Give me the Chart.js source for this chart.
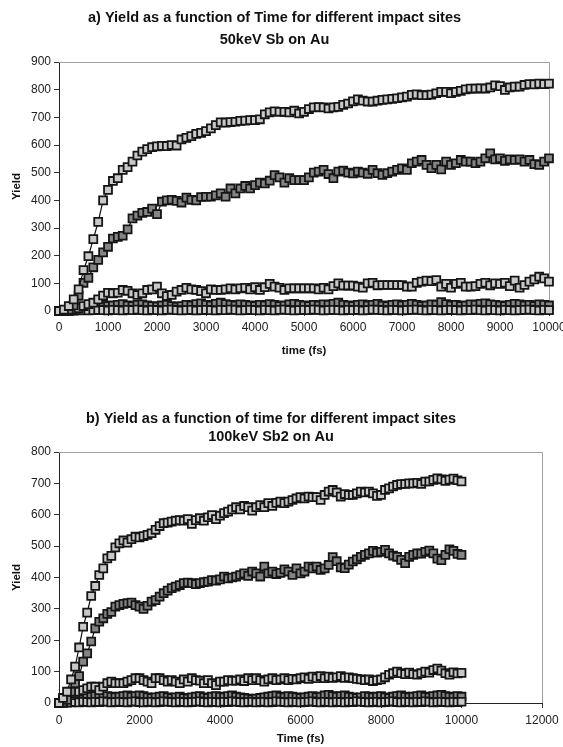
<!DOCTYPE html>
<html>
<head>
<meta charset="utf-8">
<title>Yield vs time</title>
<script src="https://cdn.jsdelivr.net/npm/chart.js"></script>
<style>
  body { margin: 0; background: #fff; width: 563px; height: 747px; overflow: hidden; position: relative; }
  canvas { position: absolute; left: 0; }
  #chartA { top: 0; }
  #chartB { top: 385px; }
</style>
</head>
<body>
<canvas id="chartA" width="563" height="365"></canvas>
<canvas id="chartB" width="563" height="362"></canvas>
<script>
// time axis (fs), shared by both panels
const times = [
  0, 100, 200, 300, 400, 500, 600, 700, 800, 900,
  1000, 1100, 1200, 1300, 1400, 1500, 1600, 1700, 1800, 1900,
  2000, 2100, 2200, 2300, 2400, 2500, 2600, 2700, 2800, 2900,
  3000, 3100, 3200, 3300, 3400, 3500, 3600, 3700, 3800, 3900,
  4000, 4100, 4200, 4300, 4400, 4500, 4600, 4700, 4800, 4900,
  5000, 5100, 5200, 5300, 5400, 5500, 5600, 5700, 5800, 5900,
  6000, 6100, 6200, 6300, 6400, 6500, 6600, 6700, 6800, 6900,
  7000, 7100, 7200, 7300, 7400, 7500, 7600, 7700, 7800, 7900,
  8000, 8100, 8200, 8300, 8400, 8500, 8600, 8700, 8800, 8900,
  9000, 9100, 9200, 9300, 9400, 9500, 9600, 9700, 9800, 9900,
  10000
];

// a) 50keV Sb on Au
const siteA1 = [
  0, 5, 18, 42, 78, 148, 198, 260, 322, 400,
  438, 470, 480, 510, 520, 540, 562, 576, 585, 592,
  595, 597, 596, 600, 598, 620, 626, 632, 640, 644,
  650, 660, 672, 682, 681, 683, 684, 687, 688, 690,
  690, 693, 711, 718, 722, 720, 720, 718, 724, 714,
  720, 730, 736, 737, 736, 732, 736, 738, 745, 750,
  758, 765, 760, 757, 757, 760, 763, 765, 767, 769,
  772, 775, 781, 783, 780, 780, 782, 787, 792, 792,
  787, 792, 796, 801, 804, 804, 805, 804, 808, 816,
  813, 799, 808, 811, 811, 817, 820, 819, 822, 820,
  822
];
const siteA2 = [
  0, 2, 5, 20, 55, 102, 120, 158, 185, 212,
  232, 262, 268, 272, 295, 335, 345, 355, 358, 370,
  350, 395, 400, 402, 398, 392, 410, 402, 400, 412,
  413, 413, 418, 425, 413, 443, 425, 443, 452, 443,
  455, 464, 461, 471, 491, 483, 464, 480, 473, 473,
  473, 483, 500, 504, 510, 495, 480, 504, 507, 500,
  497, 504, 500, 496, 510, 498, 492, 498, 504, 510,
  516, 510, 534, 540, 546, 528, 516, 528, 512, 540,
  528, 534, 546, 540, 540, 534, 540, 552, 570, 548,
  552, 543, 548, 546, 548, 540, 546, 531, 528, 540,
  552
];
const siteA3 = [
  0, 0, 2, 5, 10, 18, 25, 30, 42, 56,
  66, 64, 66, 76, 73, 64, 58, 64, 76, 78,
  88, 64, 54, 58, 70, 76, 84, 78, 76, 72,
  64, 78, 76, 76, 78, 82, 78, 82, 84, 78,
  86, 76, 86, 98, 88, 84, 76, 82, 82, 82,
  82, 82, 82, 78, 84, 78, 90, 100, 92, 92,
  92, 88, 84, 100, 102, 93, 94, 94, 94, 94,
  94, 88, 88, 102, 106, 110, 108, 112, 88, 98,
  84, 98, 102, 88, 88, 90, 98, 102, 93, 100,
  98, 102, 90, 110, 84, 94, 106, 114, 124, 118,
  106
];
const siteA4 = [
  0, 0, 2, 5, 8, 12, 15, 18, 20, 22,
  18, 20, 22, 25, 20, 18, 22, 24, 20, 18,
  16, 20, 22, 18, 15, 18, 22, 20, 25, 28,
  22, 20, 26, 30, 25, 22, 20, 24, 22, 20,
  18, 22, 20, 25, 22, 18, 20, 24, 26, 22,
  20, 18, 22, 20, 24, 22, 26, 30, 22, 20,
  18, 22, 24, 20, 22, 26, 20, 18, 22, 24,
  20, 22, 26, 22, 18, 20, 24, 22, 32, 25,
  20, 22, 18, 20, 24, 22, 26, 28, 24, 22,
  20, 18, 22, 26, 24, 20, 22, 18, 24, 22,
  20
];
const siteA5 = [
  0, 0, 0, 1, 2, 3, 2, 3, 4, 3,
  2, 4, 3, 2, 4, 3, 5, 3, 2, 4,
  3, 2, 4, 5, 3, 2, 3, 4, 2, 3,
  4, 3, 2, 4, 3, 5, 4, 2, 3, 4,
  3, 2, 4, 3, 2, 4, 5, 3, 2, 3,
  4, 3, 5, 4, 2, 3, 4, 3, 2, 4,
  3, 4, 2, 3, 5, 4, 3, 2, 4, 3,
  2, 3, 4, 5, 3, 2, 4, 3, 2, 3,
  4, 3, 2, 4, 3, 5, 3, 2, 4, 3,
  2, 4, 3, 2, 3, 4, 5, 3, 2, 4,
  3
];

// b) 100keV Sb2 on Au
const siteB1 = [
  0, 16, 36, 75, 116, 177, 243, 288, 341, 373,
  408, 429, 461, 469, 496, 509, 518, 511, 522, 530,
  528, 532, 536, 541, 552, 564, 573, 575, 578, 581,
  583, 581, 586, 571, 583, 589, 581, 592, 599, 586,
  597, 605, 610, 617, 624, 617, 628, 624, 613, 624,
  631, 624, 637, 628, 638, 642, 637, 642, 647, 652,
  656, 652, 658, 656, 656, 647, 663, 674, 679, 671,
  658, 666, 663, 663, 668, 674, 671, 674, 668, 660,
  663, 679, 684, 690, 695, 698, 698, 700, 700, 702,
  698, 706, 706, 711, 716, 713, 708, 712, 715, 710,
  706
];
const siteB2 = [
  0, 2, 10, 36, 63, 86, 132, 158, 196, 238,
  259, 270, 284, 290, 307, 312, 316, 318, 320, 312,
  307, 300, 310, 323, 328, 339, 350, 358, 366, 371,
  376, 382, 384, 382, 379, 382, 385, 387, 392, 390,
  394, 403, 397, 400, 403, 408, 413, 405, 419, 413,
  403, 435, 413, 419, 411, 415, 426, 419, 408, 429,
  413, 419, 435, 429, 435, 424, 429, 440, 465, 452,
  432, 430, 441, 451, 458, 466, 472, 477, 485, 479,
  482, 488, 477, 470, 466, 456, 446, 466, 472, 477,
  476, 482, 486, 477, 460, 455, 472, 490, 485, 475,
  472
];
const siteB3 = [
  0, 10, 15, 25, 31, 36, 41, 47, 52, 52,
  41, 52, 63, 68, 63, 63, 63, 68, 73, 79,
  79, 73, 68, 63, 79, 79, 73, 68, 73, 68,
  63, 75, 68, 79, 73, 71, 63, 73, 63, 57,
  68, 68, 73, 71, 71, 75, 70, 79, 73, 79,
  73, 68, 75, 79, 73, 75, 79, 73, 77, 75,
  79, 82, 77, 84, 79, 86, 79, 84, 80, 82,
  86, 80, 82, 79, 77, 75, 73, 75, 70, 73,
  75, 82, 90, 95, 100, 95, 92, 97, 92, 90,
  95, 100, 97, 105, 110, 103, 95, 90, 98, 94,
  96
];
const siteB4 = [
  0, 2, 5, 8, 10, 12, 15, 18, 20, 22,
  20, 18, 22, 20, 18, 20, 22, 24, 20, 22,
  24, 22, 18, 16, 18, 20, 22, 18, 16, 18,
  20, 16, 14, 18, 20, 22, 18, 16, 20, 22,
  20, 18, 22, 24, 20, 18, 16, 14, 12, 14,
  16, 18, 20, 22, 24, 20, 18, 22, 20, 18,
  16, 18, 20, 22, 18, 20, 24, 26, 22, 20,
  22, 24, 20, 18, 16, 18, 22, 20, 18, 20,
  22, 18, 16, 20, 22, 24, 20, 18, 20, 22,
  24, 20, 18, 22, 24, 26, 22, 20, 18, 22,
  20
];
const siteB5 = [
  0, 0, 1, 2, 3, 2, 4, 3, 2, 4,
  3, 5, 4, 2, 3, 4, 3, 2, 4, 5,
  3, 2, 3, 4, 2, 3, 5, 4, 3, 2,
  4, 3, 2, 3, 4, 5, 3, 2, 4, 3,
  2, 4, 3, 5, 4, 3, 2, 3, 4, 2,
  3, 4, 2, 3, 5, 4, 3, 2, 4, 3,
  2, 3, 4, 5, 3, 2, 4, 3, 2, 4,
  3, 2, 4, 3, 5, 4, 3, 2, 3, 4,
  2, 3, 4, 5, 3, 2, 4, 3, 2, 4,
  3, 5, 4, 2, 3, 4, 3, 2, 4, 3,
  4
];

const titleA = ['a) Yield as a function of Time for different impact sites', '50keV Sb on Au'];
const titleB = ['b) Yield as a function of time for different impact sites', '100keV Sb2 on Au'];

const FONT = "'Liberation Sans', Arial, Helvetica, sans-serif";
const LIGHT = '#c8c8c8';
const DARK = '#858585';

function series(values, fill) {
  return {
    data: times.map((t, i) => ({ x: t, y: values[i] })),
    showLine: true,
    borderColor: '#111',
    borderWidth: 1.2,
    pointStyle: 'rect',
    pointRadius: 5.6,
    pointHoverRadius: 5.6,
    pointBackgroundColor: fill,
    pointBorderColor: '#151515',
    pointBorderWidth: 1.8,
    clip: false
  };
}

// light gray top/right frame of the plot area
const framePlugin = {
  id: 'frame',
  beforeDatasetsDraw(chart) {
    const { ctx, chartArea: a } = chart;
    ctx.save();
    ctx.strokeStyle = '#a0a0a0';
    ctx.lineWidth = 1;
    ctx.beginPath();
    ctx.moveTo(a.left, a.top + 0.5);
    ctx.lineTo(a.right + 0.5, a.top + 0.5);
    ctx.lineTo(a.right + 0.5, a.bottom);
    ctx.stroke();
    ctx.restore();
  }
};

function makeChart(id, cfg) {
  return new Chart(document.getElementById(id), {
    type: 'scatter',
    data: { datasets: cfg.datasets },
    plugins: [framePlugin],
    options: {
      responsive: false,
      animation: false,
      layout: { padding: { left: 0, right: 563 - cfg.right, top: 0, bottom: 0 } },
      plugins: {
        legend: { display: false },
        tooltip: { enabled: false },
        title: {
          display: true,
          text: cfg.title,
          color: '#111',
          font: { family: FONT, size: 14.5, weight: 'bold', lineHeight: cfg.titleLine / 14.5 },
          padding: { top: cfg.titleTop, bottom: cfg.titleBottom }
        }
      },
      scales: {
        x: {
          type: 'linear',
          min: 0,
          max: cfg.xMax,
          afterBuildTicks(scale) {
            scale.ticks = cfg.xTicks.map(v => ({ value: v }));
          },
          ticks: {
            color: '#222', font: { family: FONT, size: 12 }, padding: cfg.xPad,
            maxRotation: 0, autoSkip: false,
            callback: v => String(v)
          },
          grid: { display: true, drawOnChartArea: false, tickLength: 5, color: '#333' },
          border: { display: true, color: '#222', width: 1 },
          title: {
            display: true,
            text: cfg.xTitle,
            color: '#111',
            font: { family: FONT, size: 11.5, weight: 'bold' },
            padding: { top: 0, bottom: cfg.xTitleBottom }
          },
          afterFit(scale) {
            scale.height = cfg.height - cfg.bottom;
            scale.paddingLeft = 0;
            scale.paddingRight = 0;
          }
        },
        y: {
          min: 0,
          max: cfg.yMax,
          afterBuildTicks(scale) {
            scale.ticks = cfg.yTicks.map(v => ({ value: v }));
          },
          ticks: { color: '#222', font: { family: FONT, size: 12 }, padding: 3, callback: v => String(v) },
          grid: { display: true, drawOnChartArea: false, tickLength: 5, color: '#333' },
          border: { display: true, color: '#222', width: 1 },
          title: {
            display: true,
            text: 'Yield',
            color: '#111',
            font: { family: FONT, size: 11.5, weight: 'bold' },
            padding: { top: 10, bottom: 0 }
          },
          afterFit(scale) {
            scale.width = 59;
            scale.paddingTop = 0;
            scale.paddingBottom = 0;
          }
        }
      }
    }
  });
}

makeChart('chartA', {
  title: titleA,
  titleLine: 22, titleTop: 7, titleBottom: 11,
  height: 365, bottom: 311, right: 549,
  xMax: 10000, xTicks: [0, 1000, 2000, 3000, 4000, 5000, 6000, 7000, 8000, 9000, 10000],
  yMax: 900, yTicks: [0, 100, 200, 300, 400, 500, 600, 700, 800, 900],
  xPad: 4, xTitle: 'time (fs)', xTitleBottom: 7,
  datasets: [
    series(siteA1, LIGHT),
    series(siteA2, DARK),
    series(siteA3, LIGHT),
    series(siteA5, LIGHT),
    series(siteA4, DARK)
  ]
});

makeChart('chartB', {
  title: titleB,
  titleLine: 18, titleTop: 25, titleBottom: 6,
  height: 362, bottom: 318, right: 542,
  xMax: 12000, xTicks: [0, 2000, 4000, 6000, 8000, 10000, 12000],
  yMax: 800, yTicks: [0, 100, 200, 300, 400, 500, 600, 700, 800],
  xPad: 5, xTitle: 'Time (fs)', xTitleBottom: 1,
  datasets: [
    series(siteB1, LIGHT),
    series(siteB2, DARK),
    series(siteB3, LIGHT),
    series(siteB5, LIGHT),
    series(siteB4, DARK)
  ]
});
</script>
</body>
</html>
